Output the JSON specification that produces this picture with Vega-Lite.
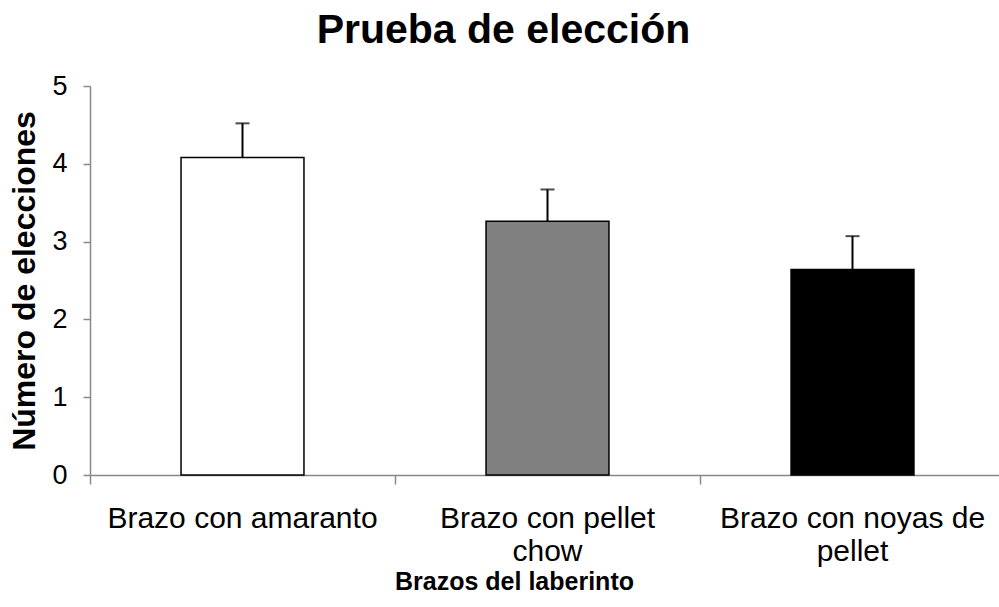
{
  "$schema": "https://vega.github.io/schema/vega-lite/v6.json",
  "autosize": "none",
  "width": 915,
  "height": 389,
  "padding": {"left": 90, "top": 86, "right": 0, "bottom": 132},
  "background": "white",
  "config": {"view": {"stroke": null}, "font": "Liberation Sans"},
  "title": {"text": "Prueba de elección", "font": "Liberation Sans", "fontSize": 41, "fontWeight": "bold", "color": "#000000", "anchor": "middle", "offset": 20, "dx": -44},
  "data": {"values": [
    {"brazo": "Brazo con amaranto", "elecciones": 4.08, "superior": 4.52},
    {"brazo": "Brazo con pellet chow", "elecciones": 3.26, "superior": 3.67},
    {"brazo": "Brazo con noyas de pellet", "elecciones": 2.64, "superior": 3.07}
  ]},
  "encoding": {
    "x": {"field": "brazo", "type": "nominal", "sort": null,
      "scale": {"paddingInner": 0, "paddingOuter": 0},
      "axis": {"title": "Brazos del laberinto", "titleFont": "Liberation Sans", "titleFontSize": 25, "titleFontWeight": "bold", "titleColor": "#000", "titlePadding": 3, "titleX": 424,
        "labelAngle": 0, "labelFont": "Liberation Sans", "labelFontSize": 30, "labelColor": "#000", "labelPadding": 19, "labelLineHeight": 33, "labelLimit": 0,
        "labelExpr": "datum.value == 'Brazo con pellet chow' ? ['Brazo con pellet', 'chow'] : datum.value == 'Brazo con noyas de pellet' ? ['Brazo con noyas de', 'pellet'] : datum.value",
        "bandPosition": 0, "domainColor": "#888", "domainWidth": 1.5, "tickColor": "#888", "tickWidth": 1.5, "tickSize": 9, "grid": false}
    }
  },
  "layer": [
    {
      "mark": {"type": "bar", "width": {"band": 0.403}, "stroke": "#000", "strokeWidth": 1.5},
      "encoding": {
        "y": {"field": "elecciones", "type": "quantitative",
          "scale": {"domain": [0, 5], "nice": false},
          "axis": {"title": "Número de elecciones", "titleFont": "Liberation Sans", "titleFontSize": 32, "titleFontWeight": "bold", "titleColor": "#000", "titlePadding": 10,
            "values": [0, 1, 2, 3, 4, 5], "format": "d", "labelFont": "Liberation Sans", "labelFontSize": 27, "labelColor": "#000", "labelPadding": 16,
            "domainColor": "#888", "domainWidth": 1.5, "tickColor": "#888", "tickWidth": 1.5, "tickSize": 7, "grid": false}},
        "fill": {"field": "brazo", "type": "nominal", "legend": null,
          "scale": {"domain": ["Brazo con amaranto", "Brazo con pellet chow", "Brazo con noyas de pellet"], "range": ["#ffffff", "#808080", "#000000"]}}
      }
    },
    {
      "mark": {"type": "rule", "color": "#000", "strokeWidth": 2},
      "encoding": {
        "y": {"field": "elecciones", "type": "quantitative"},
        "y2": {"field": "superior"}
      }
    },
    {
      "mark": {"type": "tick", "color": "#000", "size": 14, "thickness": 2},
      "encoding": {
        "y": {"field": "superior", "type": "quantitative"}
      }
    }
  ]
}
